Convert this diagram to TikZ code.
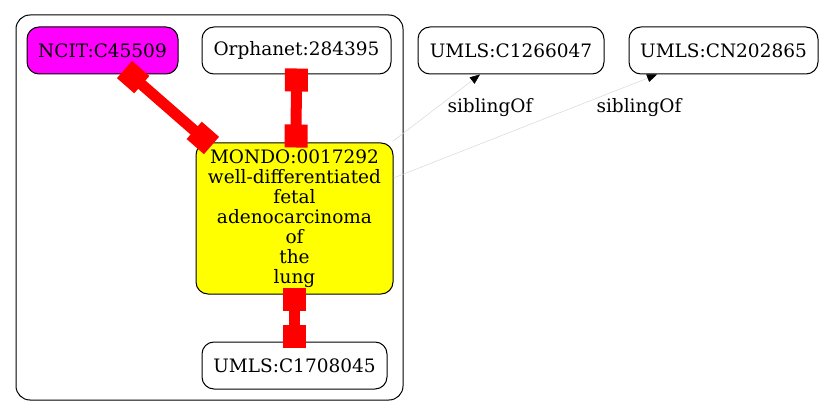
\documentclass[tikz,border=0pt]{standalone}
\usepackage{fontspec}
\setmainfont{DejaVu Serif}
\usetikzlibrary{arrows.meta,positioning}
\definecolor{ncitcol}{RGB}{255,0,255}
\definecolor{mondocol}{RGB}{255,255,0}
\definecolor{linkcol}{RGB}{255,0,0}
\definecolor{sibcol}{RGB}{215,215,215}

\tikzset{
  term/.style={draw=black,rounded corners=12pt,line width=1pt,inner sep=0pt,
    align=center,minimum height=47pt},
  samelink/.style={linkcol,line width=11pt,
    {Square[length=23pt,width=23pt]}-{Square[length=23pt,width=23pt]}},
  siblink/.style={sibcol,line width=0.5pt,-{Triangle[length=10pt,width=8pt,black]}}
}

\begin{document}
\begin{tikzpicture}[x=1pt,y=-1pt,font=\fontsize{18.5}{20}\selectfont]
  \useasboundingbox (0,0) rectangle (825,417);
  % cluster
  \draw[rounded corners=14pt,line width=1pt] (16,15) rectangle (403,400);
  % terms
  \node[term,fill=ncitcol,minimum width=151pt] (ncit) at (102.5,50.5) {NCIT:C45509};
  \node[term,minimum width=189pt] (orph) at (296.5,50.5) {Orphanet:284395};
  \node[term,minimum width=186pt] (umlsa) at (511,50.5) {UMLS:C1266047};
  \node[term,minimum width=189pt] (umlsb) at (723.5,50.5) {UMLS:CN202865};
  \node[term,fill=mondocol,minimum width=197pt,minimum height=151pt] (mondo) at (294.5,218.5)
    {MONDO:0017292\\well-differentiated\\fetal\\adenocarcinoma\\of\\the\\lung};
  \node[term,minimum width=185pt] (umlsc) at (294.5,365.5) {UMLS:C1708045};
  % equivalence links
  \draw[samelink] ([xshift=22pt,yshift=5pt]ncit.south) -- ([xshift=16pt,yshift=-3pt]mondo.north west);
  \draw[samelink] ([yshift=6pt]orph.south) -- ([xshift=1.5pt,yshift=-5pt]mondo.north);
  \draw[samelink] ([yshift=7pt]mondo.south) -- ([yshift=-6pt]umlsc.north);
  % sibling links
  \draw[siblink] ([xshift=-1pt,yshift=1pt]mondo.north east) -- ([xshift=-31pt]umlsa.south);
  \draw[siblink] ([yshift=40.5pt]mondo.east) -- ([xshift=-66.5pt]umlsb.south);
  \node (siba) at (490,108) {siblingOf};
  \node (sibb) at (639,108) {siblingOf};
\end{tikzpicture}
\end{document}
